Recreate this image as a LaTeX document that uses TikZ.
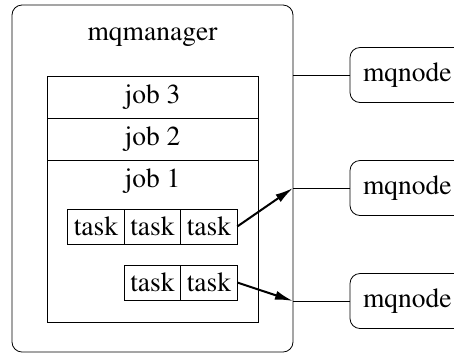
\documentclass[tikz,border=0pt]{standalone}
\usepackage[T1]{fontenc}
\usepackage{mathptmx}
\usetikzlibrary{arrows.meta}

\begin{document}
\begin{tikzpicture}[x=0.5pt,y=-0.5pt,
                    every node/.style={font=\fontsize{13.75}{16}\selectfont},
                    box/.style={draw,inner sep=0pt,outer sep=0pt},
                    jobbox/.style={box,minimum width=105.5pt,minimum height=21pt},
                    taskbox/.style={box,minimum width=28.25pt,minimum height=17.5pt},
                    mqbox/.style={box,rounded corners=5pt,anchor=west,minimum height=27.5pt,inner xsep=6.5pt},
                    push/.style={-{Latex[length=9pt,width=4.5pt]},line width=1pt}]
                    \useasboundingbox (0,0) rectangle (454,355);
                    \clip (0,0) rectangle (454,355);

                    % manager and job queue
                    \node[box,rounded corners=5pt,minimum width=140.5pt,minimum height=173.5pt] (mgr) at (152.5,178.5) {};
                    \node (title) at (152.5,37) {mqmanager};
                    \node[jobbox] (job3) at (152.5,97) {job 3};
                    \node[jobbox] (job2) at (152.5,139) {job 2};
                    \node[box,minimum width=105.5pt,minimum height=81pt] (job1) at (152.5,241) {};
                    \node (job1txt) at (152.5,181) {job 1};

                    % tasks of job 1
                    \node[taskbox] (task11) at (96,226.5) {task};
                    \node[taskbox] (task12) at (152.5,226.5) {task};
                    \node[taskbox] (task13) at (209,226.5) {task};
                    \node[taskbox] (task21) at (152.5,282.5) {task};
                    \node[taskbox] (task22) at (209,282.5) {task};

                    % workers
                    \node[mqbox] (mq1) at (350,75) {mqnode};
                    \node[mqbox] (mq2) at (350,188) {mqnode};
                    \node[mqbox] (mq3) at (350,301) {mqnode};

                    \draw (mq1.west) -- (mq1.west -| mgr.east);
                    \draw (mq2.west) -- (mq2.west -| mgr.east) coordinate (in2);
                    \draw (mq3.west) -- (mq3.west -| mgr.east) coordinate (in3);

                    \draw[push] (task13.east) -- (in2);
                    \draw[push] (task22.east) -- (in3);
                \end{tikzpicture}
\end{document}
